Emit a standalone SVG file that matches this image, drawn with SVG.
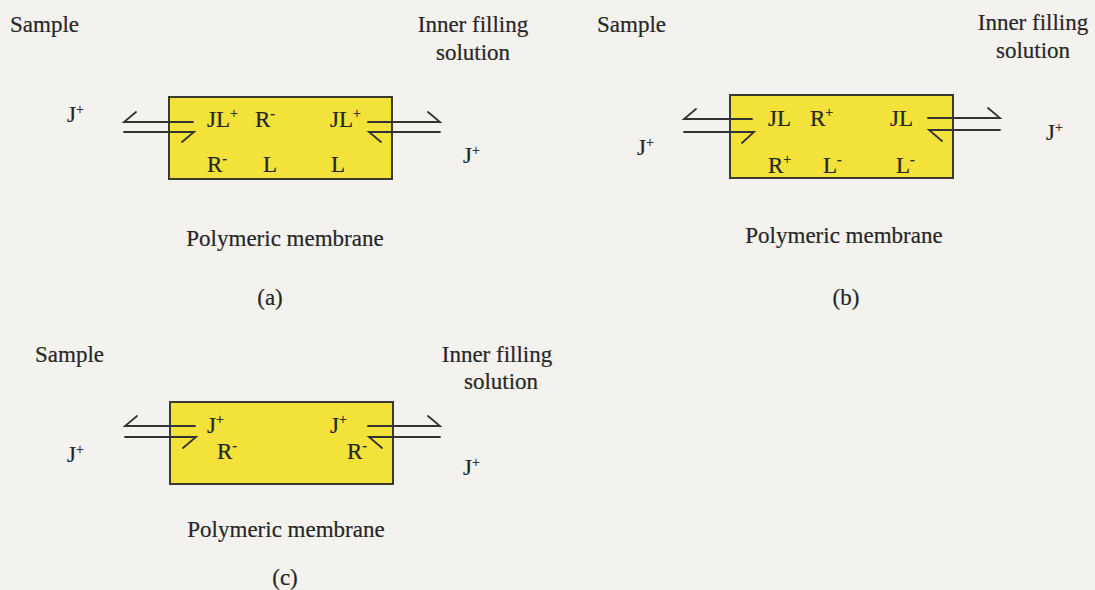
<svg xmlns="http://www.w3.org/2000/svg" width="1095" height="590" viewBox="0 0 1095 590">
<style>
text{font-family:"Liberation Serif","Times New Roman",serif;fill:#262626;stroke:#262626;stroke-width:0.2;font-size:23px}
.sup{font-size:14px}
.box{fill:#f3e23a;stroke:#3a3a30;stroke-width:2}
.ar{stroke:#333;stroke-width:1.8;fill:none;stroke-linecap:round}
.mid{text-anchor:middle}
</style>
<rect width="1095" height="590" fill="#f3f2ee"/>

<!-- Panel (a) -->
<g id="panel-a">
  <text x="10" y="32">Sample</text>
  <text x="473" y="32" class="mid">Inner filling</text>
  <text x="473" y="60" class="mid">solution</text>
  <text x="67" y="122">J<tspan class="sup" dy="-8">+</tspan></text>
  <text x="463" y="163">J<tspan class="sup" dy="-8">+</tspan></text>
  <g id="membrane-a">
    <rect class="box" x="169" y="97" width="223" height="82"/>
    <text x="207" y="127">JL<tspan class="sup" dy="-9">+</tspan></text>
    <text x="255" y="127">R<tspan class="sup" dy="-9">-</tspan></text>
    <text x="330" y="127">JL<tspan class="sup" dy="-9">+</tspan></text>
    <text x="207" y="172">R<tspan class="sup" dy="-9">-</tspan></text>
    <text x="263" y="172">L</text>
    <text x="331" y="172">L</text>
  </g>
  <text x="285" y="246" class="mid">Polymeric membrane</text>
  <text x="270" y="305" class="mid">(a)</text>
</g>

<!-- Panel (b) -->
<g id="panel-b">
  <text x="597" y="32">Sample</text>
  <text x="1033" y="30" class="mid">Inner filling</text>
  <text x="1033" y="58" class="mid">solution</text>
  <text x="637" y="155">J<tspan class="sup" dy="-8">+</tspan></text>
  <text x="1046" y="140">J<tspan class="sup" dy="-8">+</tspan></text>
  <g id="membrane-b">
    <rect class="box" x="730" y="95" width="223" height="83"/>
    <text x="768" y="126">JL</text>
    <text x="810" y="126">R<tspan class="sup" dy="-9">+</tspan></text>
    <text x="890" y="126">JL</text>
    <text x="768" y="173">R<tspan class="sup" dy="-9">+</tspan></text>
    <text x="823" y="173">L<tspan class="sup" dy="-9">-</tspan></text>
    <text x="896" y="173">L<tspan class="sup" dy="-9">-</tspan></text>
  </g>
  <text x="844" y="243" class="mid">Polymeric membrane</text>
  <text x="846" y="305" class="mid">(b)</text>
</g>

<!-- Panel (c) -->
<g id="panel-c">
  <text x="35" y="362">Sample</text>
  <text x="497" y="362" class="mid">Inner filling</text>
  <text x="501" y="389" class="mid">solution</text>
  <text x="67" y="462">J<tspan class="sup" dy="-8">+</tspan></text>
  <text x="463" y="475">J<tspan class="sup" dy="-8">+</tspan></text>
  <g id="membrane-c">
    <rect class="box" x="170" y="402" width="223" height="82"/>
    <text x="207" y="433">J<tspan class="sup" dy="-9">+</tspan></text>
    <text x="217" y="459">R<tspan class="sup" dy="-9">-</tspan></text>
    <text x="330" y="433">J<tspan class="sup" dy="-9">+</tspan></text>
    <text x="347" y="459">R<tspan class="sup" dy="-9">-</tspan></text>
  </g>
  <text x="286" y="537" class="mid">Polymeric membrane</text>
  <text x="285" y="585" class="mid">(c)</text>
</g>

<!-- Connectors: equilibrium half-arrows -->
<g id="connectors">
  <path class="ar" d="M193,122 H124 L136,112"/>
  <path class="ar" d="M124,132 H194 L182,142"/>
  <path class="ar" d="M368,122 H440 L428,112"/>
  <path class="ar" d="M440,132 H369 L381,142"/>
  <path class="ar" d="M752,119 H684 L696,109"/>
  <path class="ar" d="M684,132 H754 L742,143"/>
  <path class="ar" d="M928,118 H1000 L988,108"/>
  <path class="ar" d="M1000,130 H929 L942,141"/>
  <path class="ar" d="M195,426 H125 L137,416"/>
  <path class="ar" d="M125,437 H196 L183,448"/>
  <path class="ar" d="M368,426 H440 L428,416"/>
  <path class="ar" d="M440,437 H369 L382,448"/>
</g>
</svg>
